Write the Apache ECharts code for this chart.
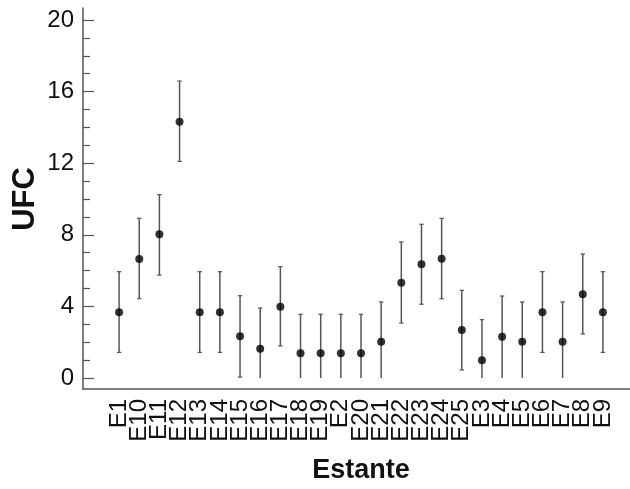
<!DOCTYPE html>
<html>
<head>
<meta charset="utf-8">
<script src="https://cdn.jsdelivr.net/npm/echarts@6/dist/echarts.min.js"></script>
<style>html,body{margin:0;padding:0;background:#fff}#c{width:630px;height:489px}</style>
</head>
<body>
<div id="c"></div>
<script>
const categories = ['E1','E10','E11','E12','E13','E14','E15','E16','E17','E18','E19','E2','E20','E21','E22','E23','E24','E25','E3','E4','E5','E6','E7','E8','E9'];
const means = [3.67,6.65,8.03,14.32,3.67,3.67,2.33,1.64,3.98,1.38,1.38,1.38,1.38,2.03,5.32,6.35,6.66,2.68,0.99,2.31,2.03,3.67,2.03,4.68,3.67];
const lower = [1.43,4.43,5.75,12.10,1.43,1.43,0.05,0,1.79,0,0,0,0,0,3.07,4.12,4.43,0.45,0,0,0,1.43,0,2.46,1.43];
const upper = [5.94,8.92,10.24,16.59,5.94,5.94,4.60,3.91,6.22,3.56,3.56,3.56,3.56,4.25,7.60,8.59,8.92,4.90,3.26,4.58,4.25,5.94,4.25,6.93,5.94];
const yTicks = [0,4,8,12,16,20];

const font = '"Liberation Sans", Arial, sans-serif';
const chart = echarts.init(document.getElementById('c'), null, {renderer:'canvas'});
const errData = categories.map((c,i)=>[i, lower[i], upper[i]]);
const axisColor = '#555';

chart.setOption({
  animation:false,
  backgroundColor:'#fff',
  grid:[
    {left:109, width:504, top:20, height:358, containLabel:false, outerBoundsMode:'none'},
    {left:83, right:0, top:8, bottom:100, containLabel:false, outerBoundsMode:'none'}
  ],
  xAxis:[
    {type:'category', gridIndex:0, data:categories, boundaryGap:true, offset:11,
     axisLine:{show:false}, axisTick:{show:false},
     axisLabel:{rotate:90, interval:0, margin:10, fontFamily:font, fontSize:24, color:'#111'},
     name:'Estante', nameLocation:'middle', nameGap:68, nameMoveOverlap:false,
     nameTextStyle:{fontFamily:font, fontSize:27, fontWeight:'bold', color:'#111'}},
    {type:'value', gridIndex:1, min:0, max:1, axisLine:{show:true, lineStyle:{color:axisColor, width:1.5}},
     axisTick:{show:false}, axisLabel:{show:false}, splitLine:{show:false}}
  ],
  yAxis:[
    {type:'value', gridIndex:0, min:0, max:20, interval:4, offset:26,
     axisLine:{show:false},
     axisTick:{show:true, inside:true, length:11, lineStyle:{color:axisColor, width:1.2}},
     minorTick:{show:true, splitNumber:4, length:7, lineStyle:{color:axisColor, width:1.2}},
     axisLabel:{fontFamily:font, fontSize:24, color:'#111', margin:9,
       formatter:v=>yTicks.includes(v)?String(v):''},
     splitLine:{show:false},
     name:'UFC', nameLocation:'middle', nameGap:42, nameRotate:90, nameMoveOverlap:false,
     nameTextStyle:{fontFamily:font, fontSize:31, fontWeight:'bold', color:'#111'}},
    {type:'value', gridIndex:1, min:0, max:1, axisLine:{show:true, lineStyle:{color:axisColor, width:1.5}},
     axisTick:{show:false}, axisLabel:{show:false}, splitLine:{show:false}}
  ],
  series:[
    {type:'custom', xAxisIndex:0, yAxisIndex:0, data:errData,
     renderItem:function(params, api){
       const x = api.value(0);
       const lo = api.value(1), hi = api.value(2);
       const pLo = api.coord([x, lo]);
       const pHi = api.coord([x, hi]);
       const cw = 2.2;
       const children = [
         {type:'line', shape:{x1:pHi[0], y1:pHi[1], x2:pLo[0], y2:pLo[1]}, style:{stroke:'#555', lineWidth:1.5}},
         {type:'line', shape:{x1:pHi[0]-cw, y1:pHi[1], x2:pHi[0]+cw, y2:pHi[1]}, style:{stroke:'#555', lineWidth:1.2}}
       ];
       if (lo > 0) children.push({type:'line', shape:{x1:pLo[0]-cw, y1:pLo[1], x2:pLo[0]+cw, y2:pLo[1]}, style:{stroke:'#555', lineWidth:1.2}});
       return {type:'group', children:children};
     }, z:2},
    {type:'scatter', xAxisIndex:0, yAxisIndex:0, data:means.map((m,i)=>[i,m]),
     symbol:'circle', symbolSize:8, itemStyle:{color:'#000'}, z:3}
  ]
});
</script>
</body>
</html>
